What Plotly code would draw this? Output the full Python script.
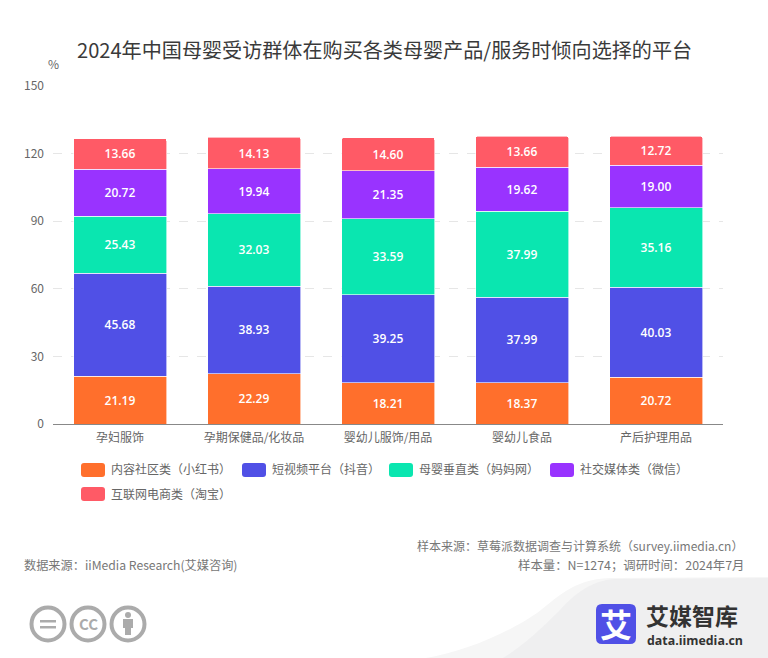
import plotly.graph_objects as go

title = "2024年中国母婴受访群体在购买各类母婴产品/服务时倾向选择的平台"
categories = ["孕妇服饰", "孕期保健品/化妆品", "婴幼儿服饰/用品", "婴幼儿食品", "产后护理用品"]
series_names = ["内容社区类（小红书）", "短视频平台（抖音）", "母婴垂直类（妈妈网）", "社交媒体类（微信）", "互联网电商类（淘宝）"]
xiaohongshu = [21.19, 22.29, 18.21, 18.37, 20.72]
douyin = [45.68, 38.93, 39.25, 37.99, 40.03]
mamawang = [25.43, 32.03, 33.59, 37.99, 35.16]
weixin = [20.72, 19.94, 21.35, 19.62, 19.00]
taobao = [13.66, 14.13, 14.60, 13.66, 12.72]
colors = ["#FF6F2C", "#5050E6", "#0AE6B0", "#9933FF", "#FF5A66"]
y_ticks = [0, 30, 60, 90, 120, 150]

W, H = 768, 658
L, R, T, B = 53, 723, 86, 424
FONT = "Noto Sans CJK SC"
GREY = "#ABABAB"

def X(p): return (p - L) / (R - L)
def Y(p): return (B - p) / (B - T)

def rrect(x0, y0, x1, y1, r):
    return (f"M{X(x0+r)},{Y(y0)} L{X(x1-r)},{Y(y0)} Q{X(x1)},{Y(y0)} {X(x1)},{Y(y0+r)} "
            f"L{X(x1)},{Y(y1-r)} Q{X(x1)},{Y(y1)} {X(x1-r)},{Y(y1)} L{X(x0+r)},{Y(y1)} "
            f"Q{X(x0)},{Y(y1)} {X(x0)},{Y(y1-r)} L{X(x0)},{Y(y0+r)} Q{X(x0)},{Y(y0)} {X(x0+r)},{Y(y0)} Z")

fig = go.Figure()
for name, vals, c in zip(series_names, [xiaohongshu, douyin, mamawang, weixin, taobao], colors):
    fig.add_bar(x=categories, y=vals, name=name, marker=dict(color=c, line=dict(color="white", width=0.6)),
                text=[f"{v:.2f}" for v in vals], textposition="inside", insidetextanchor="middle",
                constraintext="none", textangle=0,
                textfont=dict(color="white", size=12, family="Open Sans", weight=600))

shapes, ann = [], []
def text(x, y, s, size=12, color="#666666", anchor="left", weight=400, family=FONT):
    ann.append(dict(x=X(x), y=Y(y), xref="paper", yref="paper", text=s, showarrow=False, xanchor=anchor,
                    yanchor="middle", font=dict(size=size, color=color, family=family, weight=weight), borderpad=0, borderwidth=0))
def rect(x0, y0, x1, y1, c):
    shapes.append(dict(type="rect", xref="paper", yref="paper", x0=X(x0), x1=X(x1), y0=Y(y1), y1=Y(y0), fillcolor=c, line_width=0))

text(384, 49, title, 20.1, "#3A3A3A", "center")
text(53, 63, "%", 12, "#666666", "center")
for x, y, i in [(81, 470, 0), (242, 470, 1), (389, 470, 2), (550, 470, 3), (81, 494, 4)]:
    shapes.append(dict(type="path", xref="paper", yref="paper", path=rrect(x, y-7, x+24, y+7, 3),
                       fillcolor=colors[i], line_width=0))
    text(x+30, y-1, series_names[i], 12, "#666666")
text(743, 545, "样本来源：草莓派数据调查与计算系统（survey.iimedia.cn）", 12, "#777777", "right")
text(24, 565, "数据来源：iiMedia Research(艾媒咨询)", 12.2, "#777777")
text(744, 565, "样本量：N=1274；调研时间：2024年7月", 12.4, "#777777", "right")

# background swoosh: lighter outer layer, slightly darker inner layer
shapes.append(dict(type="path", xref="paper", yref="paper", layer="below", line_width=0, fillcolor="#F6F6F6",
    path=f"M{X(426)},{Y(658)} C{X(462)},{Y(652)} {X(505)},{Y(635)} {X(537)},{Y(613)} C{X(555)},{Y(600)} {X(572)},{Y(579)} {X(610)},{Y(578)} "
         f"L{X(768)},{Y(577)} L{X(768)},{Y(658)} Z"))
shapes.append(dict(type="path", xref="paper", yref="paper", layer="below", line_width=0, fillcolor="#EFEFF0",
    path=f"M{X(503)},{Y(658)} C{X(525)},{Y(645)} {X(548)},{Y(622)} {X(560)},{Y(610)} C{X(572)},{Y(597)} {X(588)},{Y(581)} {X(615)},{Y(579)} "
         f"L{X(768)},{Y(578)} L{X(768)},{Y(658)} Z"))
# licence icons
for cx in (48, 88, 128):
    shapes.append(dict(type="circle", xref="paper", yref="paper", x0=X(cx-16.5), x1=X(cx+16.5), y0=Y(640.5), y1=Y(607.5),
                       line=dict(color=GREY, width=4), fillcolor="white"))
rect(40, 620, 56, 622.5, GREY)
rect(40, 626, 56, 628.5, GREY)
text(88, 623.5, "CC", 15, GREY, "center", 700)
shapes.append(dict(type="circle", xref="paper", yref="paper", x0=X(125), x1=X(131), y0=Y(618), y1=Y(612), fillcolor=GREY, line_width=0))
rect(123, 619, 133, 628, GREY)
rect(125, 628, 131, 635, GREY)
# logo
shapes.append(dict(type="path", xref="paper", yref="paper", path=rrect(596, 604, 636, 644, 6), fillcolor="#5050E6", line_width=0))
text(616, 623, "艾", 32, "white", "center", 700)
text(646, 614.5, "艾媒智库", 23, "#333333", "left", 700)
text(647, 640, "data.iimedia.cn", 12.4, "#333333", "left", 700, "Open Sans")

fig.update_layout(
    width=W, height=H, autosize=False, barmode="stack", bargap=0.306, barcornerradius=2, showlegend=False,
    margin=dict(l=L, r=W-R, t=T, b=H-B), plot_bgcolor="white", paper_bgcolor="white",
    font=dict(family=FONT, size=12, color="#666666"), shapes=shapes, annotations=ann,
    xaxis=dict(showgrid=False, showline=True, linecolor="#888888", linewidth=1, ticks="", ticklabelstandoff=3,
               tickfont=dict(size=12, color="#666666", family=FONT), fixedrange=True),
    yaxis=dict(range=[0, 150], tickvals=y_ticks, showgrid=True, gridcolor="#E6E6E6", griddash="dash", gridwidth=1,
               zeroline=False, showline=False, ticks="", ticklabelstandoff=8,
               tickfont=dict(size=12, color="#666666", family=FONT), fixedrange=True),
)
fig.write_html("out.html", config={"displayModeBar": False},
               post_script="document.body.style.margin='0';")
